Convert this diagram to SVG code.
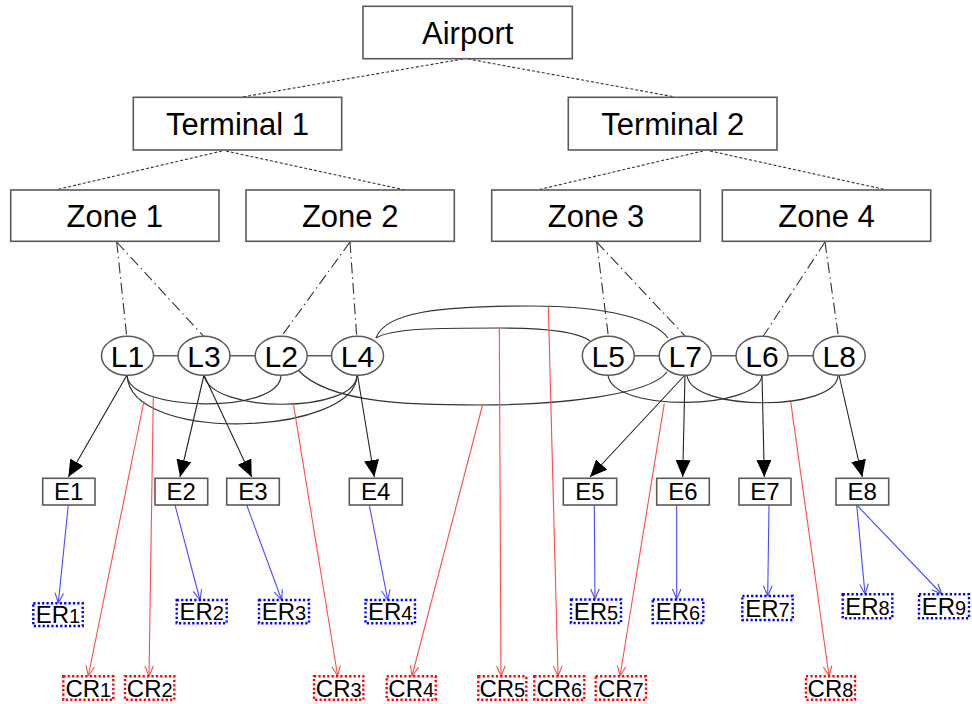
<svg xmlns="http://www.w3.org/2000/svg" width="972" height="704" viewBox="0 0 972 704">
  <defs>
    <style>
      .box { fill: #fff; stroke: #5a5a5a; stroke-width: 1.6; }
      .ell { fill: #fff; stroke: #5a5a5a; stroke-width: 1.5; }
      .big { font-family: "Liberation Sans", Arial, sans-serif; font-size: 31px; fill: #000; text-anchor: middle; }
      .lbl { font-family: "Liberation Sans", Arial, sans-serif; font-size: 30px; fill: #000; text-anchor: middle; }
      .sm { font-family: "Liberation Sans", Arial, sans-serif; font-size: 24px; fill: #000; text-anchor: middle; }
      .sm tspan.d { font-size: 20px; }
      .er { fill: #fff; stroke: #0000ff; stroke-width: 2.4; stroke-dasharray: 2.2 2.2; }
      .cr { fill: #fff; stroke: #ff0000; stroke-width: 2.4; stroke-dasharray: 2.2 2.2; }
      .tree { fill: none; stroke: #333; stroke-width: 1.1; stroke-dasharray: 3 2; }
      .zone { fill: none; stroke: #333; stroke-width: 1.1; stroke-dasharray: 11 4 1.5 4; }
      .link { fill: none; stroke: #333; stroke-width: 1.2; }
      .own { fill: none; stroke: #222; stroke-width: 1.1; marker-end: url(#ah-black); }
      .blue { fill: none; stroke: #4a4aff; stroke-width: 1.1; marker-end: url(#ah-blue); }
      .red { fill: none; stroke: #ff4a4a; stroke-width: 1.1; marker-end: url(#ah-red); }
    </style>
    <marker id="ah-black" markerWidth="17" markerHeight="15" refX="17" refY="7.5" orient="auto" markerUnits="userSpaceOnUse">
      <path d="M0,0 L17,7.5 L0,15 z" fill="#000"/>
    </marker>
    <marker id="ah-blue" markerWidth="12" markerHeight="10" refX="11" refY="5" orient="auto" markerUnits="userSpaceOnUse">
      <path d="M1,0.7 L11,5 L1,9.3" fill="none" stroke="#4a4aff" stroke-width="1.1"/>
    </marker>
    <marker id="ah-red" markerWidth="12" markerHeight="10" refX="11" refY="5" orient="auto" markerUnits="userSpaceOnUse">
      <path d="M1,0.7 L11,5 L1,9.3" fill="none" stroke="#ff4a4a" stroke-width="1.1"/>
    </marker>
  </defs>

  <rect width="972" height="704" fill="#fff"/>

  <!-- connectors -->
  <g id="connectors">
    <!-- hierarchy -->
    <line class="tree" x1="463" y1="59" x2="242" y2="97"/>
    <line class="tree" x1="468" y1="59" x2="675" y2="97"/>
    <line class="tree" x1="222" y1="151" x2="55" y2="190"/>
    <line class="tree" x1="226" y1="151" x2="405" y2="190"/>
    <line class="tree" x1="703" y1="151" x2="537" y2="190"/>
    <line class="tree" x1="710" y1="151" x2="887" y2="190"/>
    <!-- zone to location -->
    <line class="zone" x1="116.7" y1="242" x2="126.7" y2="336"/>
    <line class="zone" x1="116.7" y1="242" x2="203.3" y2="336"/>
    <line class="zone" x1="350" y1="242" x2="281.7" y2="336"/>
    <line class="zone" x1="350" y1="242" x2="356.7" y2="336"/>
    <line class="zone" x1="596.7" y1="242" x2="608.3" y2="336"/>
    <line class="zone" x1="596.7" y1="242" x2="685" y2="336"/>
    <line class="zone" x1="825" y1="242" x2="763.3" y2="336"/>
    <line class="zone" x1="825" y1="242" x2="838.3" y2="336"/>
    <!-- neighbour links -->
    <line class="link" x1="153.5" y1="355.8" x2="178" y2="355.8"/>
    <line class="link" x1="230" y1="355.8" x2="255.2" y2="355.8"/>
    <line class="link" x1="307.2" y1="355.8" x2="331.5" y2="355.8"/>
    <line class="link" x1="634.3" y1="355.8" x2="659.2" y2="355.8"/>
    <line class="link" x1="711.2" y1="355.8" x2="736" y2="355.8"/>
    <line class="link" x1="788" y1="355.8" x2="813.2" y2="355.8"/>
    <!-- curved links -->
    <path class="link" d="M127,375 C128,412 281,415 281,375"/>
    <path class="link" d="M127,375 C130,445 357,435 357,375"/>
    <path class="link" d="M204,375 C210,414 357,414 357,375"/>
    <path class="link" d="M298,370 C330,405 420,405 480,405 C560,405 650,395 667,372"/>
    <path class="link" d="M376,338 C385,312 440,306 530,306 C610,306 655,320 668,338"/>
    <path class="link" d="M376,338 C392,328 440,328 500,328 C550,328 580,333 590,341"/>
    <path class="link" d="M608,375 C612,413 760,410 762,375"/>
    <path class="link" d="M687,375 C690,412 838,412 838,375"/>
    <!-- location to entity -->
    <line class="own" x1="127" y1="375" x2="68.3" y2="477"/>
    <line class="own" x1="204" y1="375" x2="180" y2="477"/>
    <line class="own" x1="204" y1="375" x2="251.7" y2="477"/>
    <line class="own" x1="357.5" y1="375" x2="374.3" y2="477"/>
    <line class="own" x1="685" y1="375" x2="590" y2="477"/>
    <line class="own" x1="685" y1="375" x2="682.7" y2="477"/>
    <line class="own" x1="762" y1="375" x2="764.3" y2="477"/>
    <line class="own" x1="839" y1="375" x2="862.3" y2="477"/>
    <!-- entity to ER -->
    <line class="blue" x1="68.3" y1="505" x2="58.3" y2="603"/>
    <line class="blue" x1="175" y1="505" x2="200" y2="600"/>
    <line class="blue" x1="246.7" y1="505" x2="281.7" y2="600"/>
    <line class="blue" x1="369.3" y1="505" x2="387.7" y2="600"/>
    <line class="blue" x1="594.3" y1="505" x2="595" y2="599"/>
    <line class="blue" x1="676.7" y1="505" x2="676.7" y2="599"/>
    <line class="blue" x1="769" y1="505" x2="767.7" y2="596"/>
    <line class="blue" x1="856.7" y1="505" x2="865" y2="594"/>
    <line class="blue" x1="856.7" y1="505" x2="941.7" y2="594"/>
    <!-- link to CR -->
    <line class="red" x1="144" y1="401" x2="88.3" y2="676"/>
    <line class="red" x1="153.3" y1="396.7" x2="149" y2="676"/>
    <line class="red" x1="293.3" y1="403.3" x2="337.7" y2="676"/>
    <line class="red" x1="482.7" y1="404.5" x2="412" y2="676"/>
    <line class="red" x1="499.3" y1="328.3" x2="501" y2="676"/>
    <line class="red" x1="548.3" y1="306.5" x2="558" y2="676"/>
    <line class="red" x1="664.3" y1="403.3" x2="620" y2="676"/>
    <line class="red" x1="790.7" y1="401.7" x2="829" y2="676"/>
  </g>

  <!-- hierarchy nodes -->
  <g id="airport"><rect class="box" x="363" y="6.3" width="209.3" height="52.4"/><text class="big" x="467.7" y="43.6">Airport</text></g>
  <g id="terminal1"><rect class="box" x="133.3" y="97.3" width="208.4" height="52.7"/><text class="big" x="237.5" y="134.8">Terminal 1</text></g>
  <g id="terminal2"><rect class="box" x="568.3" y="97.3" width="208.7" height="52.7"/><text class="big" x="672.7" y="134.8">Terminal 2</text></g>
  <g id="zone1"><rect class="box" x="10.7" y="190" width="208.3" height="51.3"/><text class="big" x="114.8" y="226.8">Zone 1</text></g>
  <g id="zone2"><rect class="box" x="246" y="190" width="208.3" height="51.3"/><text class="big" x="350.2" y="226.8">Zone 2</text></g>
  <g id="zone3"><rect class="box" x="491.7" y="190" width="208.6" height="51.3"/><text class="big" x="596" y="226.8">Zone 3</text></g>
  <g id="zone4"><rect class="box" x="722.3" y="190" width="208.4" height="51.3"/><text class="big" x="826.5" y="226.8">Zone 4</text></g>

  <!-- locations -->
  <g id="L1"><ellipse class="ell" cx="127.5" cy="355.8" rx="26" ry="19.5"/><text class="lbl" x="127.5" y="366.6">L1</text></g>
  <g id="L3"><ellipse class="ell" cx="204" cy="355.8" rx="26" ry="19.5"/><text class="lbl" x="204" y="366.6">L3</text></g>
  <g id="L2"><ellipse class="ell" cx="281.2" cy="355.8" rx="26" ry="19.5"/><text class="lbl" x="281.2" y="366.6">L2</text></g>
  <g id="L4"><ellipse class="ell" cx="357.5" cy="355.8" rx="26" ry="19.5"/><text class="lbl" x="357.5" y="366.6">L4</text></g>
  <g id="L5"><ellipse class="ell" cx="608.3" cy="355.8" rx="26" ry="19.5"/><text class="lbl" x="608.3" y="366.6">L5</text></g>
  <g id="L7"><ellipse class="ell" cx="685.2" cy="355.8" rx="26" ry="19.5"/><text class="lbl" x="685.2" y="366.6">L7</text></g>
  <g id="L6"><ellipse class="ell" cx="762" cy="355.8" rx="26" ry="19.5"/><text class="lbl" x="762" y="366.6">L6</text></g>
  <g id="L8"><ellipse class="ell" cx="839.2" cy="355.8" rx="26" ry="19.5"/><text class="lbl" x="839.2" y="366.6">L8</text></g>

  <!-- entities -->
  <g id="E1"><rect class="box" x="42.7" y="478.3" width="52.3" height="26.7"/><text class="sm" x="68.8" y="500.4">E1</text></g>
  <g id="E2"><rect class="box" x="155" y="478.3" width="52.7" height="26.7"/><text class="sm" x="181.3" y="500.4">E2</text></g>
  <g id="E3"><rect class="box" x="226.7" y="478.3" width="52.6" height="26.7"/><text class="sm" x="253" y="500.4">E3</text></g>
  <g id="E4"><rect class="box" x="349.3" y="478.3" width="53" height="26.7"/><text class="sm" x="375.8" y="500.4">E4</text></g>
  <g id="E5"><rect class="box" x="563.3" y="478.3" width="53.4" height="26.7"/><text class="sm" x="590" y="500.4">E5</text></g>
  <g id="E6"><rect class="box" x="656.7" y="478.3" width="52.6" height="26.7"/><text class="sm" x="683" y="500.4">E6</text></g>
  <g id="E7"><rect class="box" x="739" y="478.3" width="52" height="26.7"/><text class="sm" x="765" y="500.4">E7</text></g>
  <g id="E8"><rect class="box" x="836" y="478.3" width="52.7" height="26.7"/><text class="sm" x="862.3" y="500.4">E8</text></g>

  <!-- entity records -->
  <g id="ER1"><rect class="er" x="33.3" y="603.3" width="49.4" height="22.7"/><text class="sm" x="58" y="623.3">ER<tspan class="d">1</tspan></text></g>
  <g id="ER2"><rect class="er" x="176.7" y="600" width="50" height="23.3"/><text class="sm" x="201.7" y="620">ER<tspan class="d">2</tspan></text></g>
  <g id="ER3"><rect class="er" x="259" y="600" width="50" height="23.3"/><text class="sm" x="284" y="620">ER<tspan class="d">3</tspan></text></g>
  <g id="ER4"><rect class="er" x="365.5" y="600" width="49.5" height="23.3"/><text class="sm" x="390.2" y="620">ER<tspan class="d">4</tspan></text></g>
  <g id="ER5"><rect class="er" x="571" y="599.5" width="50" height="23.5"/><text class="sm" x="596" y="619.8">ER<tspan class="d">5</tspan></text></g>
  <g id="ER6"><rect class="er" x="652.7" y="599.5" width="50.6" height="23.5"/><text class="sm" x="678" y="619.8">ER<tspan class="d">6</tspan></text></g>
  <g id="ER7"><rect class="er" x="742.3" y="596" width="50.4" height="24"/><text class="sm" x="767.5" y="616.5">ER<tspan class="d">7</tspan></text></g>
  <g id="ER8"><rect class="er" x="842.7" y="594.3" width="49.6" height="24"/><text class="sm" x="867.5" y="614.8">ER<tspan class="d">8</tspan></text></g>
  <g id="ER9"><rect class="er" x="919" y="594.3" width="50" height="24"/><text class="sm" x="944" y="614.8">ER<tspan class="d">9</tspan></text></g>

  <!-- connection records -->
  <g id="CR1"><rect class="cr" x="63.3" y="676.3" width="50" height="23.5"/><text class="sm" x="88.3" y="696.8">CR<tspan class="d">1</tspan></text></g>
  <g id="CR2"><rect class="cr" x="125" y="676.3" width="49.3" height="23.5"/><text class="sm" x="149.7" y="696.8">CR<tspan class="d">2</tspan></text></g>
  <g id="CR3"><rect class="cr" x="314" y="676.3" width="49.3" height="23.5"/><text class="sm" x="338.7" y="696.8">CR<tspan class="d">3</tspan></text></g>
  <g id="CR4"><rect class="cr" x="386.7" y="676.3" width="49" height="23.5"/><text class="sm" x="411.2" y="696.8">CR<tspan class="d">4</tspan></text></g>
  <g id="CR5"><rect class="cr" x="478.3" y="676.3" width="48" height="23.5"/><text class="sm" x="502.3" y="696.8">CR<tspan class="d">5</tspan></text></g>
  <g id="CR6"><rect class="cr" x="534.3" y="676.3" width="50" height="23.5"/><text class="sm" x="559.3" y="696.8">CR<tspan class="d">6</tspan></text></g>
  <g id="CR7"><rect class="cr" x="595.7" y="676.3" width="50.3" height="23.5"/><text class="sm" x="620.8" y="696.8">CR<tspan class="d">7</tspan></text></g>
  <g id="CR8"><rect class="cr" x="806" y="676.3" width="49" height="23.5"/><text class="sm" x="830.5" y="696.8">CR<tspan class="d">8</tspan></text></g>
</svg>
